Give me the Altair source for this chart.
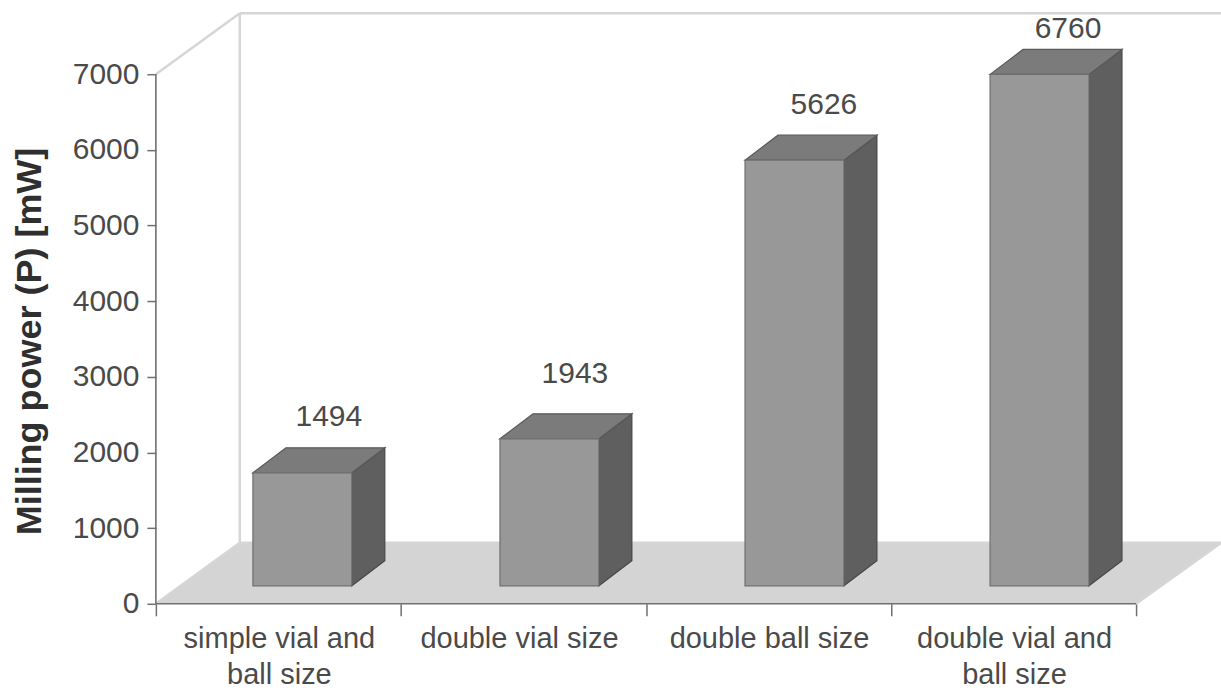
import altair as alt
import pandas as pd

# Chart content
categories = ["simple vial and\nball size", "double vial size", "double ball size", "double vial and\nball size"]
power_mw = [1494, 1943, 5626, 6760]
y_ticks = [0, 1000, 2000, 3000, 4000, 5000, 6000, 7000]
x_ticks = [0, 1, 2, 3, 4]

# Drawing geometry: x in category slots, y in mW
WIDTH, HEIGHT = 1066, 591
SLOT_PX = 245.25
MW_PX = 530 / 7000
X_MAX = WIDTH / SLOT_PX
Y_MAX = HEIGHT / MW_PX
FLOOR_DX, FLOOR_DY = 84 / SLOT_PX, 61 / MW_PX
BAR_DX, BAR_DY = 33 / SLOT_PX, 25 / MW_PX
BAR_W = 99 / SLOT_PX
BAR_SHIFT_PX = [24, 26, 26, 26]
BAR_BASE = 18 / MW_PX

# Hand-placed offsets of the value labels, in pixels from the top of each bar
LABEL_DX = [10, 9, 13, 12]
LABEL_LIFT = [31, 40, 30, 20]
# Hand-placed offsets of the category labels, in pixels
CATEGORY_DX = [1, -4, 1, 1]

x_scale = alt.Scale(domain=[0, X_MAX], range=[0, WIDTH], nice=False, zero=False)
y_scale = alt.Scale(domain=[0, Y_MAX], range=[HEIGHT, 0], nice=False, zero=False)
X = alt.X("x:Q", scale=x_scale, title=None,
          axis=alt.Axis(values=x_ticks, labels=False, domain=False, grid=False, tickSize=12,
                        tickColor="#707070", tickWidth=1.5, orient="bottom"))
Y = alt.Y("y:Q", scale=y_scale, stack=None, title="Milling power (P) [mW]",
          axis=alt.Axis(values=y_ticks, format="d", domain=False, grid=False, tickSize=9,
                        tickColor="#707070", tickWidth=1.5, labelFont="Liberation Sans",
                        labelFontSize=30, labelColor="#4a4a4a", labelPadding=8,
                        titleFont="Liberation Sans", titleFontSize=36, titleFontWeight="bold",
                        titleColor="#2f2f2f", titleX=-126, titleY=328,
                        titleBaseline="middle"))


def polyline(points, group="a"):
    return pd.DataFrame([{"x": p[0], "y": p[1], "g": group} for p in points])


# Floor of the box as a parallelogram
floor_df = pd.DataFrame({
    "x": [0, FLOOR_DX, 4, 4 + FLOOR_DX],
    "y": [0, FLOOR_DY, FLOOR_DY, FLOOR_DY],
    "y2": [0, 0, 0, FLOOR_DY],
})
floor = alt.Chart(floor_df).mark_area(color="#d4d4d4", interpolate="linear").encode(
    x=X, y=Y, y2="y2:Q")

# Wall edges of the box
walls = pd.concat([
    polyline([(FLOOR_DX, FLOOR_DY), (FLOOR_DX, Y_MAX)], "left"),
    polyline([(FLOOR_DX, Y_MAX), (X_MAX, Y_MAX)], "top"),
    polyline([(0, 7000), (FLOOR_DX, Y_MAX)], "corner"),
    polyline([(FLOOR_DX, FLOOR_DY), (X_MAX, FLOOR_DY)], "back"),
    polyline([(4, 0), (X_MAX, FLOOR_DY)], "right"),
    polyline([(0, 0), (FLOOR_DX, FLOOR_DY)], "near"),
])
wall_lines = alt.Chart(walls).mark_line(color="#d6d6d6", strokeWidth=2.5, clip=False).encode(
    x=X, y=Y, detail="g:N", order="y:Q")

# Axis lines
axis_lines = pd.concat([
    polyline([(0, 0), (0, 7000)], "yaxis"),
    polyline([(0, 0), (4, 0)], "xaxis"),
])
axis_rules = alt.Chart(axis_lines).mark_line(color="#707070", strokeWidth=1.6).encode(
    x=X, y=Y, detail="g:N")

# Three visible faces of each bar
front_rows, top_rows, side_rows, label_rows = [], [], [], []
for i, v in enumerate(power_mw):
    x0 = i + 0.5 - BAR_W / 2 + BAR_SHIFT_PX[i] / SLOT_PX
    x1 = x0 + BAR_W
    y0 = BAR_BASE
    y1 = BAR_BASE + v
    front_rows.append({"x": x0, "x2": x1, "y": y1, "y2": y0})
    top_rows += [
        {"bar": i, "x": x0, "y": y1, "y2": y1},
        {"bar": i, "x": x0 + BAR_DX, "y": y1 + BAR_DY, "y2": y1},
        {"bar": i, "x": x1, "y": y1 + BAR_DY, "y2": y1},
        {"bar": i, "x": x1 + BAR_DX, "y": y1 + BAR_DY, "y2": y1 + BAR_DY},
    ]
    side_rows += [
        {"bar": i, "x": x1, "y": y1, "y2": y0},
        {"bar": i, "x": x1 + BAR_DX, "y": y1 + BAR_DY, "y2": y0 + BAR_DY},
    ]
    label_rows.append({
        "x": (x0 + x1 + BAR_DX) / 2 + LABEL_DX[i] / SLOT_PX,
        "y": y1 + BAR_DY + LABEL_LIFT[i] / MW_PX,
        "text": str(v),
    })

front = alt.Chart(pd.DataFrame(front_rows)).mark_rect(
    color="#989898", stroke="#6f6f6f", strokeWidth=1.2).encode(
    x=X, x2="x2:Q", y=Y, y2="y2:Q")
top = alt.Chart(pd.DataFrame(top_rows)).mark_area(
    color="#7b7b7b", stroke="#5a5a5a", strokeWidth=1.2, interpolate="linear").encode(
    x=X, y=Y, y2="y2:Q", detail="bar:N")
side = alt.Chart(pd.DataFrame(side_rows)).mark_area(
    color="#5f5f5f", stroke="#474747", strokeWidth=1.2, interpolate="linear").encode(
    x=X, y=Y, y2="y2:Q", detail="bar:N")

value_labels = alt.Chart(pd.DataFrame(label_rows)).mark_text(
    font="Liberation Sans", fontSize=30, color="#4a4a4a", baseline="middle").encode(
    x=X, y=Y, text="text:N")

category_df = pd.DataFrame({
    "x": [i + 0.5 + CATEGORY_DX[i] / SLOT_PX for i in range(4)],
    "label": categories,
})
category_labels = alt.Chart(category_df).mark_text(
    font="Liberation Sans", fontSize=29, color="#4a4a4a", baseline="top",
    lineBreak="\n", lineHeight=36, align="center").encode(
    x=X, y=alt.value(HEIGHT + 21), text="label:N")

chart = alt.layer(
    floor, wall_lines, axis_rules, side, top, front, value_labels, category_labels
).properties(
    width=WIDTH, height=HEIGHT,
    padding={"left": 156, "top": 13, "right": 0, "bottom": 86},
    autosize=alt.AutoSizeParams(type="none"),
    background="white",
).configure_view(stroke=None)

chart.save("out.html", embed_options={"renderer": "svg", "actions": False})
